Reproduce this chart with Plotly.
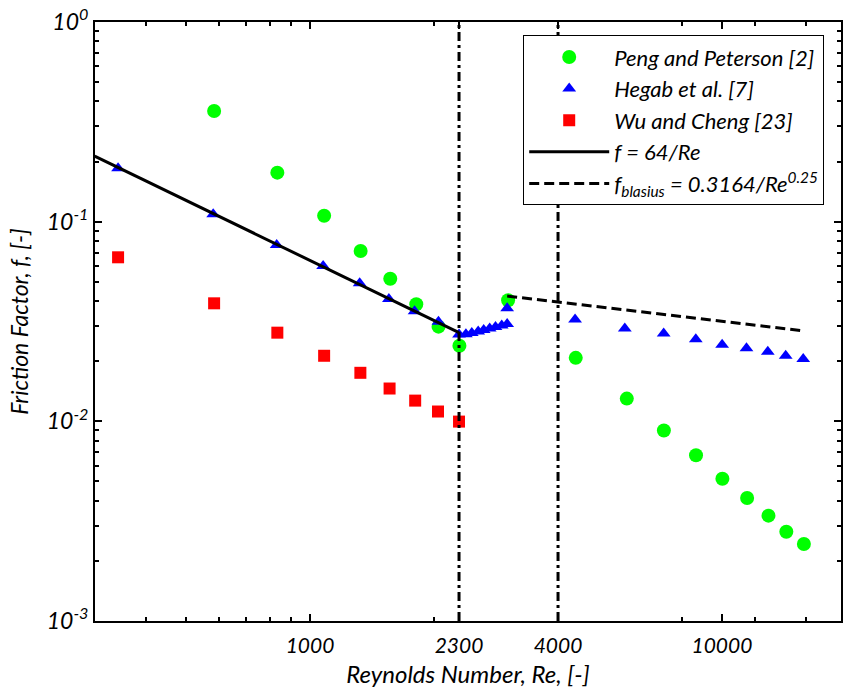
import plotly.graph_objects as go

# ---- data ----
peng_re = [585, 833, 1082, 1327, 1566, 1811, 2051, 2305, 3026,
           4416, 5875, 7228, 8650, 10025, 11510, 12970, 14330, 15810]
peng_f = [0.358, 0.176, 0.107, 0.0713, 0.0518, 0.0386, 0.0298, 0.0239, 0.0404,
          0.0208, 0.0130, 0.0090, 0.00676, 0.00516, 0.00413, 0.00337, 0.0028, 0.00243]

hegab_re = [342, 582, 830, 1076, 1320, 1554, 1794, 2050, 2300,
            2390, 2470, 2560, 2640, 2730, 2820, 2920, 3010, 3010,
            4400, 5810, 7220, 8640, 10010, 11470, 12920, 14280, 15750]
hegab_f = [0.185, 0.109, 0.0764, 0.0600, 0.0491, 0.0410, 0.0356, 0.0315, 0.0272,
           0.0273, 0.0277, 0.0282, 0.0287, 0.0292, 0.0297, 0.0302, 0.0307, 0.0368,
           0.0324, 0.0292, 0.0275, 0.0258, 0.0242, 0.0232, 0.0223, 0.0213, 0.0205]

wu_re = [342, 585, 833, 1082, 1325, 1560, 1800, 2045, 2300]
wu_f = [0.0663, 0.0390, 0.0278, 0.0213, 0.0175, 0.0146, 0.0127, 0.0112, 0.00997]

lam_re = [300, 2300]
lam_f = [0.213, 0.0278]

blas_re = [3010, 15800]
blas_f = [0.0424, 0.0284]

vlines_re = [2300, 4000]

x_tickvals = [1000, 2300, 4000, 10000]
x_ticktext = ["1000", "2300", "4000", "10000"]
x_minor = [400, 500, 600, 700, 800, 900, 2000, 8000, 12000, 16000]

y_tickvals = [1, 0.1, 0.01, 0.001]
y_ticktext = ["10<sup>0</sup>", "10<sup>-1</sup>", "10<sup>-2</sup>", "10<sup>-3</sup>"]
y_minor = [m * d for d in [0.001, 0.01, 0.1] for m in range(2, 10)]

FONT = "Lato"

fig = go.Figure()

fig.add_trace(go.Scatter(x=peng_re, y=peng_f, mode="markers", name="Peng and Peterson [2]",
                         marker=dict(symbol="circle", size=14, color="#00ff00"),
                         legendgroup="a"))
fig.add_trace(go.Scatter(x=hegab_re, y=hegab_f, mode="markers", name="Hegab et al. [7]",
                         marker=dict(symbol="triangle-up", size=12, color="#0000ff"),
                         legendgroup="b"))
fig.add_trace(go.Scatter(x=wu_re, y=wu_f, mode="markers", name="Wu and Cheng [23]",
                         marker=dict(symbol="square", size=12, color="#ff0000"),
                         legendgroup="c"))
fig.add_trace(go.Scatter(x=lam_re, y=lam_f, mode="lines", name="<i>f</i> = 64/Re",
                         line=dict(color="black", width=3), legendgroup="d"))
fig.add_trace(go.Scatter(x=blas_re, y=blas_f, mode="lines",
                         name="<i>f</i><sub>blasius</sub> = 0.3164/Re<sup>0.25</sup>",
                         line=dict(color="black", width=3, dash="10px,5px"), legendgroup="e"))
for xv in vlines_re:
    fig.add_trace(go.Scatter(x=[xv, xv], y=[0.001, 1], mode="lines", showlegend=False,
                             line=dict(color="black", width=3, dash="9px,4px,3px,4px"),
                             hoverinfo="skip"))

fig.update_layout(
    width=845, height=690,
    margin=dict(l=95, r=2, t=22, b=69),
    paper_bgcolor="white", plot_bgcolor="white",
    font=dict(family=FONT, color="black", style="italic"),
    showlegend=True,
    legend=dict(x=0.574, y=0.978, xanchor="left", yanchor="top",
                bgcolor="white", bordercolor="black", borderwidth=1,
                font=dict(family=FONT, size=22, style="italic", color="black"),
                itemwidth=80, tracegroupgap=0),
)

fig.update_xaxes(
    type="log", range=[2.478, 4.289],
    tickmode="array", tickvals=x_tickvals, ticktext=x_ticktext,
    ticks="inside", ticklen=7, tickwidth=1.5, tickcolor="black",
    minor=dict(tickmode="array", tickvals=x_minor, ticks="inside", ticklen=4,
               tickwidth=1.5, tickcolor="black", showgrid=False),
    showline=True, linecolor="black", linewidth=2, mirror="ticks",
    showgrid=False, zeroline=False, ticklabelstandoff=5,
    tickfont=dict(family=FONT, size=21, style="italic"),
    title=dict(text="Reynolds Number, Re, [-]", font=dict(family=FONT, size=24, style="italic"),
               standoff=10),
)
fig.update_yaxes(
    type="log", range=[-3, 0],
    tickmode="array", tickvals=y_tickvals, ticktext=y_ticktext,
    ticks="inside", ticklen=7, tickwidth=1.5, tickcolor="black",
    minor=dict(tickmode="array", tickvals=y_minor, ticks="inside", ticklen=4,
               tickwidth=1.5, tickcolor="black", showgrid=False),
    showline=True, linecolor="black", linewidth=2, mirror="ticks",
    showgrid=False, zeroline=False,
    tickfont=dict(family=FONT, size=23, style="italic"),
    title=dict(text="Friction Factor, f, [-]", font=dict(family=FONT, size=23, style="italic"),
               standoff=12),
)

fig.write_html("out.html")
